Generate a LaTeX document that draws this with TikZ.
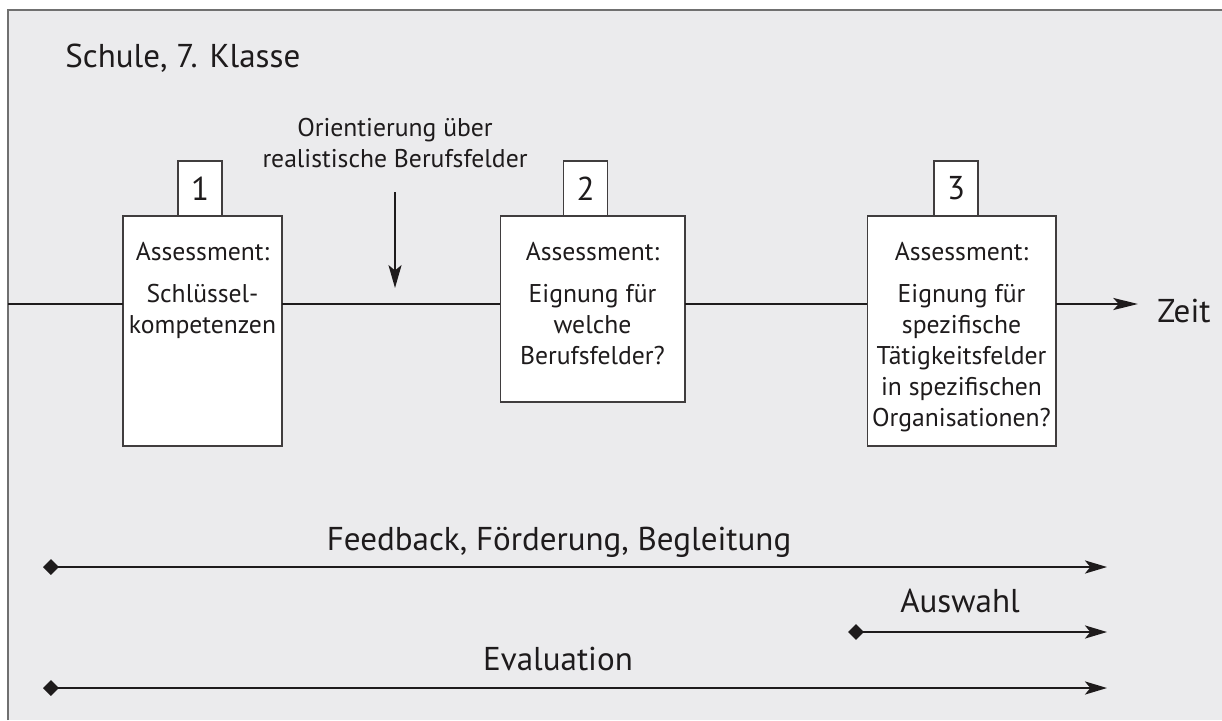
\documentclass[tikz,border=0pt]{standalone}
\usepackage{fontspec}
\setmainfont{PT Sans}
\usetikzlibrary{arrows.meta,positioning}

\definecolor{panel}{RGB}{235,235,237}
\definecolor{ink}{RGB}{30,27,28}
\definecolor{rim}{RGB}{112,112,112}

\newcommand\bigfont{\fontsize{18.8}{22}\selectfont}
\newcommand\smallfont{\fontsize{14.6}{17.64}\selectfont}

\tikzset{
  assess/.style={draw=ink!85, fill=white, line width=0.6pt, inner sep=0pt, outer sep=0pt},
  tabbox/.style={assess, minimum width=0.88cm, minimum height=1.1cm, font=\bigfont, text=ink},
  boxtext/.style={align=center, inner sep=0pt, font=\smallfont, text=ink},
  label/.style={inner sep=0pt, font=\bigfont, text=ink},
  timeline/.style={draw=ink, line width=1.5pt},
  pointer/.style={draw=ink, line width=1.3pt, -{Stealth[length=13pt,width=7.4pt,inset=3pt]}},
  span/.style={draw=ink, line width=1.5pt,
    {Diamond[length=9pt,width=9pt]}-{Stealth[length=12.5pt,width=7.4pt,inset=3pt]}},
}

\begin{document}
\begin{tikzpicture}[x=0.02cm, y=-0.02cm]
	\useasboundingbox (0,0) rectangle (1222,720);
	\fill[panel] (8,10) rectangle (1222,720);
	\draw[rim, line width=0.9pt] (8,720) -- (8,10) -- (1222,10);
	\node[label, anchor=base west] (title) at (65,67) {Schule, 7. Klasse};

	% die drei Assessments
	\node[assess, minimum width=3.18cm, minimum height=4.6cm] (box1) at (202.5,331) {};
	\node[assess, minimum width=3.7cm, minimum height=3.72cm] (box2) at (592.5,309) {};
	\node[assess, minimum width=3.78cm, minimum height=4.6cm] (box3) at (961.5,331) {};
	\node[tabbox, anchor=south] (tab1) at (200,216) {1};
	\node[tabbox, anchor=south] (tab2) at (585.5,216) {2};
	\node[tabbox, anchor=south] (tab3) at (956,216) {3};
	\node[boxtext, anchor=north] (text1) at (202.5,242) {Assessment:\\[0.22cm]Schlüssel-\\kompetenzen};
	\node[boxtext, anchor=north] (text2) at (592.5,242) {Assessment:\\[0.22cm]Eignung für\\welche\\Berufsfelder?};
	\node[boxtext, anchor=north] (text3) at (961.5,242) {Assessment:\\[0.22cm]Eignung für\\spezifische\\Tätigkeitsfelder\\in spezifischen\\Organisationen?};

	% Zeitachse
	\coordinate (t0) at (8,304);
	\node[label, anchor=base west] (zeit) at (1157,322) {Zeit};
	\draw[timeline] (t0) -- (t0 -| box1.west);
	\draw[timeline] (t0 -| box1.east) -- (t0 -| box2.west);
	\draw[timeline] (t0 -| box2.east) -- (t0 -| box3.west);
	\draw[timeline, -{Stealth[length=14pt,width=6.8pt,inset=3pt]}, shorten >=0.38cm] (t0 -| box3.east) -- (t0 -| zeit.west);

	\node[boxtext, anchor=north] (orient) at (395,118) {Orientierung über\\realistische Berufsfelder};
	\draw[pointer, shorten <=0.48cm, shorten >=0.32cm] (orient.south) -- (orient.south |- t0);

	% Begleitung ueber die ganze Zeit
	\coordinate (fb0) at (43,567);
	\coordinate (fb1) at (1107,567);
	\coordinate (aw0) at (848,632);
	\coordinate (aw1) at (1107,632);
	\coordinate (ev0) at (43,688);
	\coordinate (ev1) at (1107,688);
	\draw[span] (fb0) -- (fb1);
	\draw[span] (aw0) -- (aw1);
	\draw[span] (ev0) -- (ev1);
	\node[label, anchor=base] (feedback) at (559,550) {Feedback, Förderung, Begleitung};
	\node[label, anchor=base] (auswahl) at (960,612) {Auswahl};
	\node[label, anchor=base] (evaluation) at (558,670) {Evaluation};
\end{tikzpicture}
\end{document}
